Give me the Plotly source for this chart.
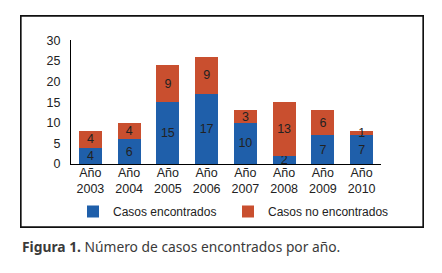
import plotly.graph_objects as go

years = ["Año<br>2003", "Año<br>2004", "Año<br>2005", "Año<br>2006",
         "Año<br>2007", "Año<br>2008", "Año<br>2009", "Año<br>2010"]
encontrados = [4, 6, 15, 17, 10, 2, 7, 7]
no_encontrados = [4, 4, 9, 9, 3, 13, 6, 1]
y_ticks = [0, 5, 10, 15, 20, 25, 30]

BLUE = "#1F5FAA"
ORANGE = "#C94F2F"
FONT = "Liberation Sans, Arial, sans-serif"
FS = 12.5

W, H = 442, 273
# outer frame (the chart border) in page pixels
FL, FR, FT, FB = 21, 423, 9, 227
# inner plot area in page pixels
PL, PR, PT, PB = 71, 381, 34, 162
fw, fh = FR - FL, FB - FT

def fx(x):
    return (x - FL) / fw

def fy(y):
    return (FB - y) / fh

fig = go.Figure()
for vals, name, color, lw in [(encontrados, "Casos encontrados", BLUE, 110),
                              (no_encontrados, "Casos no encontrados", ORANGE, 135)]:
    fig.add_trace(go.Bar(
        x=years, y=vals, name=name, legendwidth=lw,
        marker=dict(color=color, line=dict(width=0)),
        text=vals, textposition="inside", insidetextanchor="middle",
        textangle=0, constraintext="none", cliponaxis=False,
        textfont=dict(family=FONT, size=FS, color="#222222"),
    ))

# empty helper trace so the frame axes (x2/y2) exist
fig.add_trace(go.Scatter(x=[None], y=[None], xaxis="x2", yaxis="y2",
                         showlegend=False, hoverinfo="skip", mode="markers"))

frame_axis = dict(domain=[0, 1], range=[0, 1], showline=True, mirror=True,
                  linecolor="#111111", linewidth=1.3, showticklabels=False, ticks="",
                  showgrid=False, zeroline=False, fixedrange=True)

fig.update_layout(
    width=W, height=H,
    margin=dict(l=FL, r=W - FR, t=FT, b=H - FB, pad=0),
    barmode="stack", bargap=0.41,
    paper_bgcolor="white", plot_bgcolor="rgba(0,0,0,0)",
    font=dict(family=FONT, size=FS, color="#222222"),
    uniformtext=dict(minsize=FS, mode="show"),
    showlegend=True,
    legend=dict(
        orientation="h", x=fx(73), xanchor="left", y=fy(196), yanchor="top",
        entrywidthmode="pixels",
        font=dict(family=FONT, size=12, color="#222222"),
        traceorder="normal", itemwidth=30, bgcolor="rgba(0,0,0,0)",
    ),
    xaxis=dict(
        domain=[fx(PL), fx(PR)], anchor="y",
        showline=True, linecolor="black", linewidth=1,
        ticks="", showgrid=False, tickfont=dict(size=FS),
        ticklabelstandoff=-3,
    ),
    yaxis=dict(
        domain=[fy(PB), fy(PT)], anchor="x",
        range=[0, 30], tickvals=y_ticks, showline=True, linecolor="black",
        linewidth=1, ticks="", showgrid=False, zeroline=False,
        tickfont=dict(size=FS), ticklabelstandoff=7,
    ),
    xaxis2=dict(frame_axis, anchor="y2"),
    yaxis2=dict(frame_axis, anchor="x2"),
    shapes=[dict(type="rect", xref="paper", yref="paper", x0=0, x1=1, y0=0, y1=1,
                 line=dict(color="#111111", width=1.3), layer="above")],
    annotations=[dict(
        text="<b>Figura 1.</b> Número de casos encontrados por año.",
        xref="paper", yref="paper", x=fx(20), y=fy(247),
        xanchor="left", yanchor="middle", showarrow=False,
        font=dict(family="Noto Sans, Open Sans, sans-serif", size=13.8, color="#3a3a3a"),
    )],
)

fig.write_html("out.html", config={"displayModeBar": False},
               post_script="document.body.style.margin='0';")
